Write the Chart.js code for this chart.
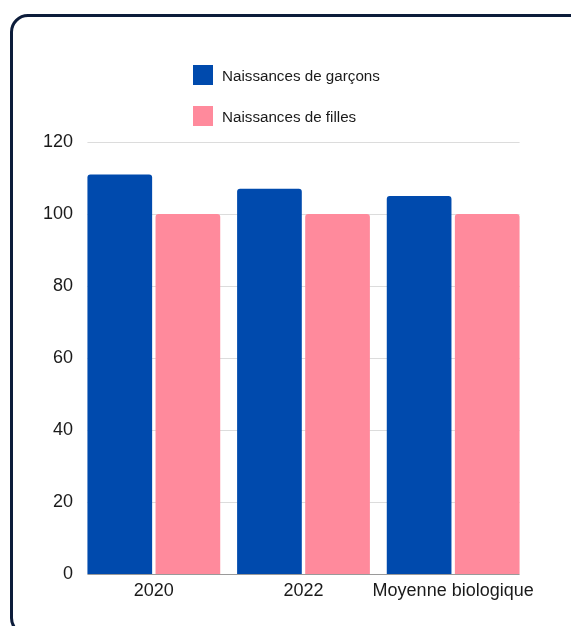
<!DOCTYPE html>
<html>
<head>
<meta charset="utf-8">
<script src="https://cdn.jsdelivr.net/npm/chart.js@4.4.1/dist/chart.umd.min.js"></script>
<style>
  html, body { margin: 0; padding: 0; background: #fff; overflow: hidden; }
  body { width: 571px; height: 626px; position: relative; font-family: "Liberation Sans", Arial, sans-serif; }
  .card {
    position: absolute; left: 10px; top: 14px; width: 590px; height: 622px;
    border: 3.5px solid #0c1c3a; border-radius: 18px; box-sizing: border-box;
  }
  .wrap { position: absolute; left: 0; top: 0; width: 571px; height: 626px; }
  #legend { position: absolute; left: 193px; top: 65px; }
  .item { display: flex; align-items: center; height: 20px; margin-bottom: 21px; font-size: 15.2px; color: #1a1a1a; }
  .box { width: 20px; height: 20px; margin-right: 9px; }
</style>
</head>
<body>
<div class="card"></div>
<div class="wrap"><canvas id="births"></canvas></div>
<div id="legend"></div>
<script>
const categories = ['2020', '2022', 'Moyenne biologique'];
const boysBirths = [111, 107, 105];
const girlsBirths = [100, 100, 100];
const yTicks = [0, 20, 40, 60, 80, 100, 120];

const blue = '#004aad';
const pink = '#ff8a9c';
const tickFont = { family: '"Liberation Sans", Arial, sans-serif', size: 18 };

// horizontal grid lines, only as wide as the bar groups
const gridPlugin = {
  id: 'shortGrid',
  beforeDatasetsDraw(chart) {
    const ctx = chart.ctx;
    const y = chart.scales.y;
    const first = chart.getDatasetMeta(0).data[0];
    const last = chart.getDatasetMeta(1).data[categories.length - 1];
    const x0 = first.x - first.width / 2;
    const x1 = last.x + last.width / 2;
    ctx.save();
    y.ticks.forEach(t => {
      const py = Math.round(y.getPixelForValue(t.value)) + 0.5;
      ctx.strokeStyle = t.value === 0 ? '#9a9a9a' : '#dcdcdc';
      ctx.lineWidth = 1;
      ctx.beginPath();
      ctx.moveTo(x0, py);
      ctx.lineTo(x1, py);
      ctx.stroke();
    });
    ctx.restore();
  }
};

const chart = new Chart(document.getElementById('births'), {
  type: 'bar',
  data: {
    labels: categories,
    datasets: [
      {
        label: 'Naissances de garçons',
        data: boysBirths,
        backgroundColor: blue,
        borderRadius: { topLeft: 3, topRight: 3 },
        borderSkipped: false
      },
      {
        label: 'Naissances de filles',
        data: girlsBirths,
        backgroundColor: pink,
        borderRadius: { topLeft: 3, topRight: 3 },
        borderSkipped: false
      }
    ]
  },
  plugins: [gridPlugin],
  options: {
    responsive: true,
    maintainAspectRatio: false,
    animation: false,
    layout: { padding: { top: 142, right: 43, bottom: 0, left: 0 } },
    datasets: {
      bar: { categoryPercentage: 0.91, barPercentage: 0.95 }
    },
    plugins: {
      legend: { display: false },
      tooltip: { enabled: false }
    },
    scales: {
      x: {
        grid: { display: false },
        border: { display: false },
        ticks: { color: '#1a1a1a', padding: -2, autoSkip: false, maxRotation: 0, font: tickFont },
        afterFit(scale) { scale.height = 52; }
      },
      y: {
        min: 0,
        max: 120,
        afterBuildTicks(scale) { scale.ticks = yTicks.map(v => ({ value: v })); },
        grid: { display: false, drawTicks: false },
        border: { display: false },
        ticks: { color: '#1a1a1a', padding: 6, font: tickFont },
        afterFit(scale) { scale.width = 79; }
      }
    }
  }
});

// legend built from the chart's datasets
const legend = document.getElementById('legend');
chart.data.datasets.forEach(ds => {
  const item = document.createElement('div');
  item.className = 'item';
  const box = document.createElement('span');
  box.className = 'box';
  box.style.background = ds.backgroundColor;
  item.appendChild(box);
  item.appendChild(document.createTextNode(ds.label));
  legend.appendChild(item);
});
</script>
</body>
</html>
